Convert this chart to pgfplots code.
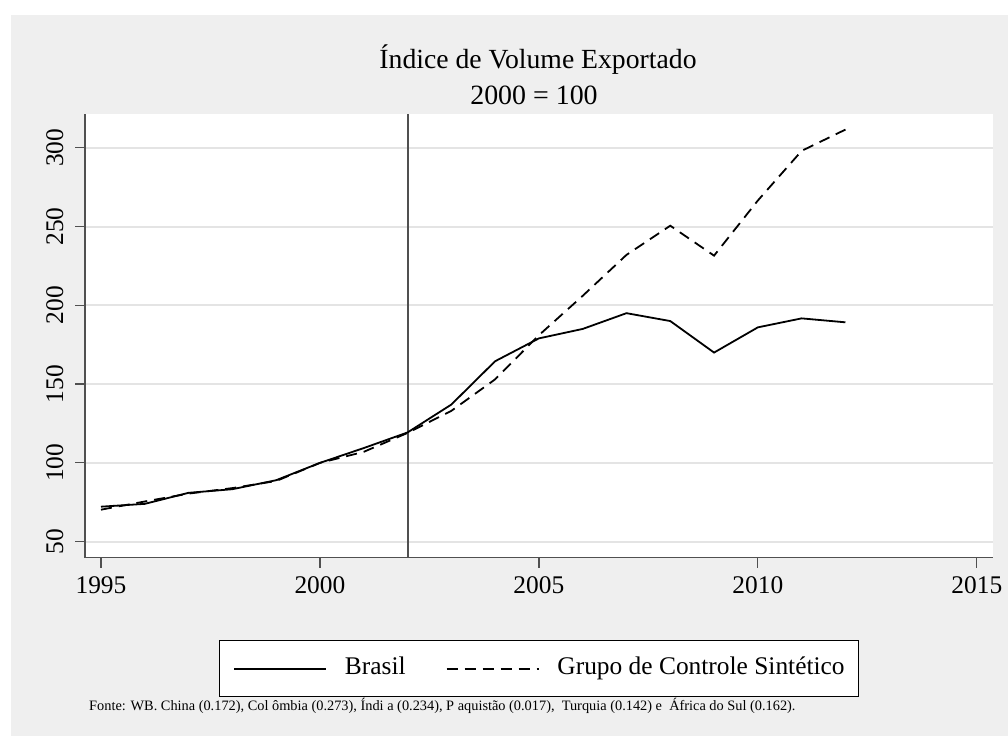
\documentclass[border=0pt]{standalone}
\usepackage{fontspec}
\setmainfont{Liberation Serif}
\usepackage{pgfplots}
\pgfplotsset{compat=1.18}
\definecolor{bggray}{RGB}{239,239,239}
\definecolor{gridgray}{RGB}{228,228,228}
\definecolor{axgray}{RGB}{80,80,80}

\begin{document}
\begin{tikzpicture}[x=1bp,y=1bp]
\useasboundingbox (0,0) rectangle (1008,736);
\fill[white] (0,0) rectangle (1008,736);
\fill[bggray] (11,0) rectangle (1008,721);
\node[font=\fontsize{27.8}{32}\selectfont, anchor=base, inner sep=0pt] at (538,667.7) {Índice de Volume Exportado};
\node[font=\fontsize{28}{32}\selectfont, anchor=base, inner sep=0pt] at (534,631) {2000 = 100};
\node[anchor=west,font=\fontsize{14.4}{16}\selectfont,inner sep=0pt] at (89,30)
  {Fonte: WB. China (0.172), Col ômbia (0.273), Índi a (0.234), P aquistão (0.017), \ Turquia (0.142) e \ África do Sul (0.162).};

\begin{axis}[
    at={(85bp,178.4bp)}, anchor=south west,
    scale only axis,
    width=908bp, height=443.6bp,
    xmin=1994.635, xmax=2015.37,
    ymin=39.9, ymax=321.4,
    axis x line*=bottom, axis y line*=left,
    axis line style={axgray, line width=1.4bp, -},
    axis background/.style={fill=white},
    xtick={1995,2000,2005,2010,2015},
    ytick={50,100,150,200,250,300},
    tick align=outside,
    major tick length=10bp,
    tick style={axgray, line width=1.2bp},
    ymajorgrids,
    grid style={gridgray, line width=2bp},
    /pgf/number format/assume math mode=true,
    /pgf/number format/1000 sep={},
    xticklabel style={font=\fontsize{25.5}{30}\selectfont, anchor=north, inner sep=0pt, yshift=-9bp},
    yticklabel style={font=\fontsize{25.5}{30}\selectfont, xshift=-12bp, rotate=90, anchor=base, inner sep=0pt},
    legend columns=2,
    legend image code/.code={\draw[#1] (0bp,0bp) -- (92bp,0bp);},
    legend style={
        at={(axis description cs:0.4999,-0.2505)}, anchor=center,
        draw=black, line width=1.2bp, fill=white,
        font=\fontsize{25.5}{30}\selectfont,
        inner xsep=14bp, inner ysep=16bp,
        nodes={inner xsep=0bp, inner ysep=0bp, text height=18bp, text depth=6bp},
        /tikz/every odd column/.append style={column sep=18bp},
        /tikz/every even column/.append style={column sep=40bp},
    },
]

% linha vertical em 2002
\addplot[axgray, line width=2bp, forget plot] coordinates {(2002,39.9) (2002,321.4)};

\addplot[black, line width=1.8bp] coordinates {
(1995,72.2) (1996,74.0) (1997,81.0) (1998,83.3) (1999,89.0) (2000,100.0)
(2001,109.4) (2002,119.3) (2003,137.0) (2004,164.5) (2005,179.0) (2006,185.0)
(2007,195.0) (2008,190.0) (2009,170.0) (2010,186.0) (2011,191.7) (2012,189.2)
};
\addlegendentry{Brasil}

\addplot[black, line width=1.8bp, dash pattern=on 11bp off 7bp] coordinates {
(1995,70.3) (1996,75.5) (1997,80.5) (1998,84.0) (1999,88.5) (2000,100.0)
(2001,107.0) (2002,119.0) (2003,133.0) (2004,153.0) (2005,181.0) (2006,206.0)
(2007,232.0) (2008,250.5) (2009,231.5) (2010,266.5) (2011,298.0) (2012,311.5)
};
\addlegendentry{Grupo de Controle Sintético\hspace{18bp}}

\end{axis}
\end{tikzpicture}
\end{document}
